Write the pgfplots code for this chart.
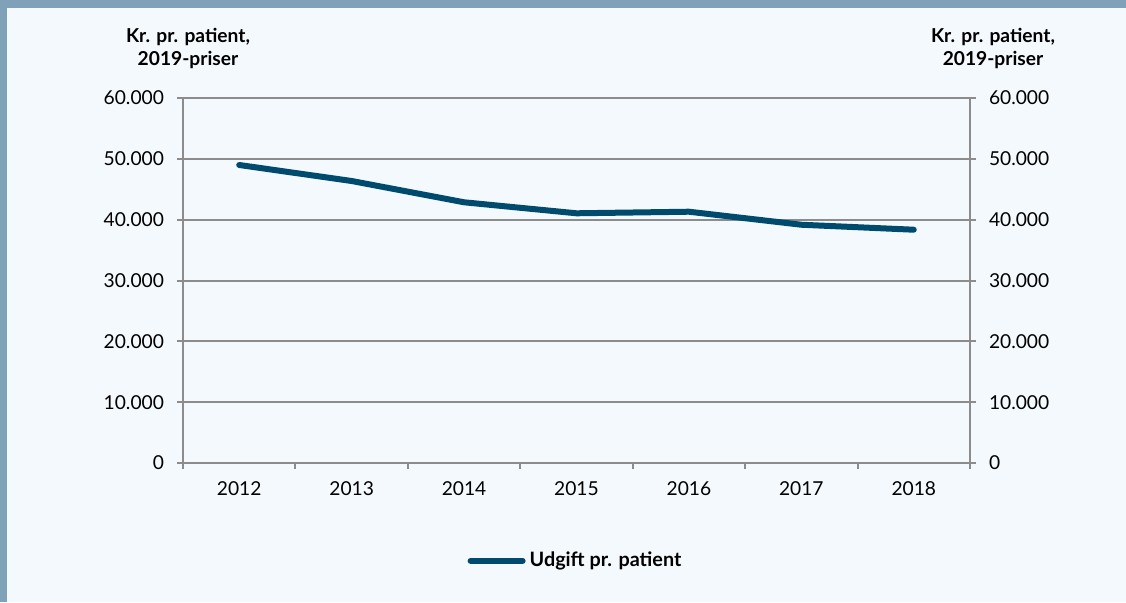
\documentclass[border=0pt]{standalone}
\usepackage{fontspec}
\setmainfont{Lato}
\usepackage{pgfplots}
\pgfplotsset{compat=1.18}
\definecolor{bg}{HTML}{F4F9FD}
\definecolor{band}{HTML}{7FA2B8}
\definecolor{line}{HTML}{004A6E}
\definecolor{gridc}{HTML}{8C8C8C}
\begin{document}
\begin{tikzpicture}
% pixel (px,py) -> (px*0.5pt, (602-py)*0.5pt)
\fill[band] (0pt,0pt) rectangle (563pt,301pt);
\fill[bg] (3.5pt,0pt) rectangle (563pt,297pt);
\node[font=\bfseries\fontsize{9.6}{11.5}\selectfont,align=center] at (94pt,277pt) {Kr. pr. patient,\\2019-priser};
\node[font=\bfseries\fontsize{9.6}{11.5}\selectfont,align=center] at (496.5pt,277pt) {Kr. pr. patient,\\2019-priser};
\begin{axis}[
  at={(91.5pt,69.5pt)}, anchor=south west,
  scale only axis, width=393.5pt, height=182.5pt,
  xmin=-0.5, xmax=6.5, ymin=0, ymax=60000,
  scaled y ticks=false,
  xtick={-0.5,0.5,...,6.5}, xticklabels={},
  extra x ticks={0,1,2,3,4,5,6},
  extra x tick labels={2012,2013,2014,2015,2016,2017,2018},
  extra x tick style={major tick length=0pt, grid=none},
  ytick={0,10000,...,60000},
  yticklabels={0,10.000,20.000,30.000,40.000,50.000,60.000},
  ymajorgrids, grid style={gridc, line width=1pt},
  axis line style={gridc, line width=1pt},
  axis x line*=bottom, axis y line*=left,
  tick style={gridc, line width=1pt},
  major tick length=3pt,
  tick align=outside,
  xtick pos=bottom, ytick pos=left,
  tick label style={font=\fontsize{9.6}{11}\selectfont, text=black},
  yticklabel style={xshift=-3pt},
  xticklabel style={yshift=-6pt},
  legend style={at={(0.5,-0.268)}, anchor=center, draw=none, fill=none,
    font=\bfseries\fontsize{9.9}{11}\selectfont, legend columns=1},
  legend image code/.code={\draw[line, line width=3pt, line cap=round] (0pt,0pt) -- (26pt,0pt);},
  clip=false,
]
\addplot[line, line width=3pt, line cap=round, line join=round] coordinates {
  (0,48990) (1,46360) (2,42860) (3,41050) (4,41310) (5,39170) (6,38350)
};
\addlegendentry{Udgift pr. patient}
\end{axis}
\begin{axis}[
  at={(91.5pt,69.5pt)}, anchor=south west,
  scale only axis, width=393.5pt, height=182.5pt,
  xmin=-0.5, xmax=6.5, ymin=0, ymax=60000,
  scaled y ticks=false,
  axis x line=none, axis y line*=right,
  ytick={0,10000,...,60000},
  yticklabels={0,10.000,20.000,30.000,40.000,50.000,60.000},
  axis line style={gridc, line width=1pt},
  tick style={gridc, line width=1pt},
  major tick length=3pt, tick align=outside,
  tick label style={font=\fontsize{9.6}{11}\selectfont, text=black},
  yticklabel style={xshift=3pt},
]
\addplot[draw=none] coordinates {(0,0)};
\end{axis}
\pgfresetboundingbox
\useasboundingbox (0pt,0pt) rectangle (563pt,301pt);
\end{tikzpicture}
\end{document}
